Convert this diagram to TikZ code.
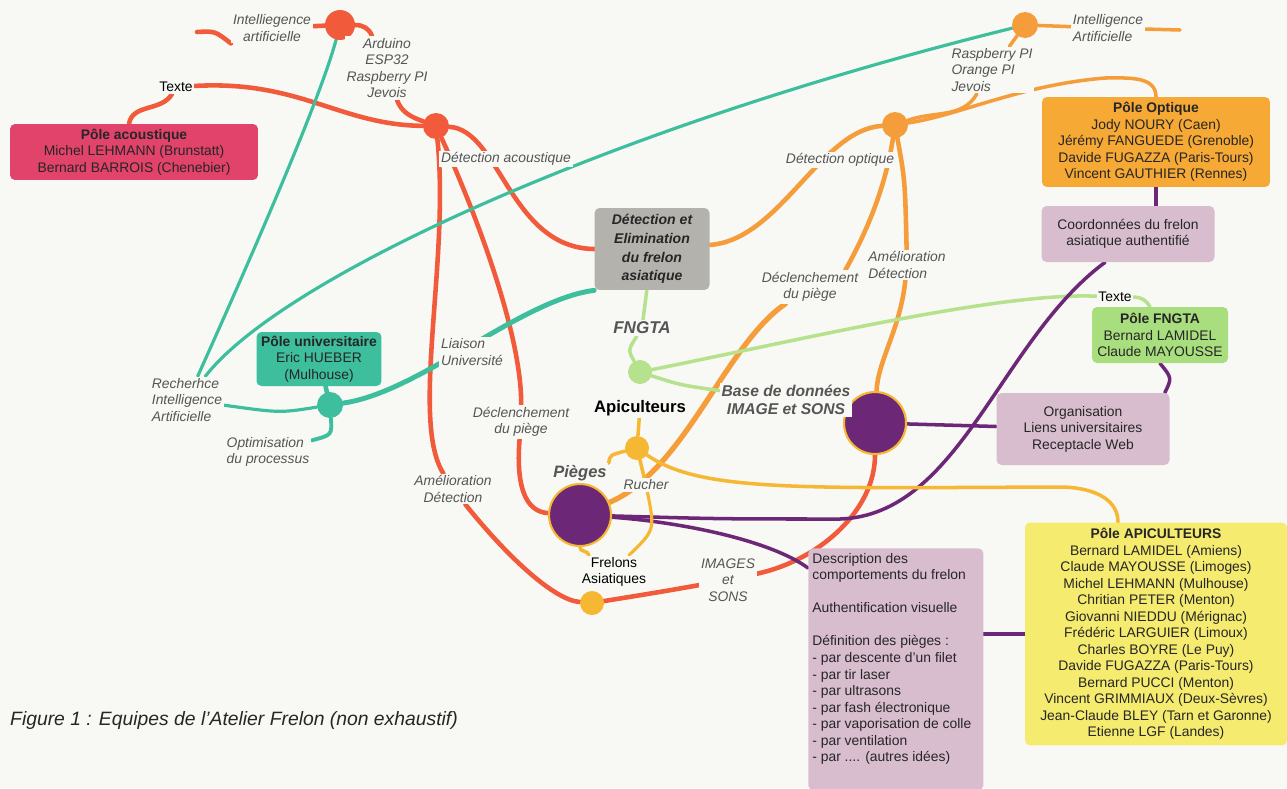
\documentclass[tikz,border=0pt]{standalone}
\usepackage{fontspec}
\setmainfont{Liberation Sans}
\usetikzlibrary{positioning}
\usetikzlibrary{backgrounds}

\definecolor{paper}{HTML}{F8F8F5}
\definecolor{acred}{HTML}{F15B3B}
\definecolor{acbox}{HTML}{E1436A}
\definecolor{tealc}{HTML}{3DBE9C}
\definecolor{optorange}{HTML}{F59D3A}
\definecolor{optbox}{HTML}{F6A935}
\definecolor{fnggreen}{HTML}{B7E28D}
\definecolor{fngbox}{HTML}{A9DE7E}
\definecolor{purplec}{HTML}{6C2777}
\definecolor{mauve}{HTML}{D8BDCF}
\definecolor{mainbox}{HTML}{B4B2AC}
\definecolor{yel}{HTML}{F6B733}
\definecolor{apibox}{HTML}{F5EB6F}
\definecolor{tagtext}{HTML}{555555}

\newcommand{\mmfont}{\fontsize{7.9}{9.4}\selectfont}

\begin{document}
\begin{tikzpicture}
[
x=0.02cm, y=-0.02cm,
hub/.style={circle, minimum size=#1, inner sep=0pt},
bighub/.style={hub=12.4mm, fill=purplec, draw=yel, line width=1.2pt},
pole/.style={rounded corners=1mm, align=center, inner sep=1pt, font=\mmfont, text=black!85},
tag/.style={align=center, font=\mmfont\itshape, text=tagtext, fill=paper, inner sep=1pt},
plain/.style={align=center, font=\mmfont, text=black, fill=paper, inner sep=1pt},
link/.style={line width=#1, line cap=round},
link/.default=2.6pt,
]
\useasboundingbox (0,0) rectangle (1287,788);

% poles
\node (pac) [pole, fill=acbox, minimum width=49.6mm, minimum height=11.2mm] at (134,152) {\textbf{Pôle acoustique}\\Michel LEHMANN (Brunstatt)\\Bernard BARROIS (Chenebier)};
\node (puniv) [pole, fill=tealc, minimum width=25mm, minimum height=10.8mm] at (319,359) {\textbf{Pôle universitaire}\\Eric HUEBER\\(Mulhouse)};
\node (main) [pole, fill=mainbox, minimum width=23mm, minimum height=16.4mm, font=\fontsize{8}{10.6}\selectfont\bfseries\itshape] at (652,249) {Détection et\\Elimination\\du frelon\\asiatique};
\node (popt) [pole, fill=optbox, minimum width=45.6mm, minimum height=18mm] at (1156,142) {\textbf{Pôle Optique}\\Jody NOURY (Caen)\\Jérémy FANGUEDE (Grenoble)\\Davide FUGAZZA (Paris-Tours)\\Vincent GAUTHIER (Rennes)};
\node (coord) [pole, fill=mauve, minimum width=34.6mm, minimum height=11.2mm] at (1128,234) {Coordonnées du frelon\\asiatique authentifié};
\node (pfng) [pole, fill=fngbox, minimum width=27.2mm, minimum height=11.2mm] at (1160,335) {\textbf{Pôle FNGTA}\\Bernard LAMIDEL\\Claude MAYOUSSE};
\node (orga) [pole, fill=mauve, minimum width=34.6mm, minimum height=14.4mm] at (1083,429) {Organisation\\Liens universitaires\\Receptacle Web};
\node (papi) [pole, fill=apibox, minimum width=52.4mm, minimum height=44.6mm] at (1156,634) {\textbf{Pôle APICULTEURS}\\Bernard LAMIDEL (Amiens)\\Claude MAYOUSSE (Limoges)\\Michel LEHMANN (Mulhouse)\\Chritian PETER (Menton)\\Giovanni NIEDDU (Mérignac)\\Frédéric LARGUIER (Limoux)\\Charles BOYRE (Le Puy)\\Davide FUGAZZA (Paris-Tours)\\Bernard PUCCI (Menton)\\Vincent GRIMMIAUX (Deux-Sèvres)\\Jean-Claude BLEY (Tarn et Garonne)\\Etienne LGF (Landes)};
\node (desc) [pole, fill=mauve, anchor=north west, align=left, inner xsep=0.8mm, inner ysep=1mm] at (808,548) {\parbox[t][46.4mm][t]{33.4mm}{\raggedright Description des\\comportements du frelon\\[9.4pt]Authentification visuelle\\[9.4pt]Définition des pièges :\\- par descente d'un filet\\- par tir laser\\- par ultrasons\\- par fash électronique\\- par vaporisation de colle\\- par ventilation\\- par .... (autres idées)}};

% hubs
\node (ai1) [hub=6mm, fill=acred] at (340,25) {};
\node (hac) [hub=5.2mm, fill=acred] at (436,126) {};
\node (huniv) [hub=5.2mm, fill=tealc] at (330,405) {};
\node (hopt) [hub=5.2mm, fill=optorange] at (895,125) {};
\node (ai2) [hub=5.2mm, fill=optorange] at (1025,25) {};
\node (hfng) [hub=4.8mm, fill=fnggreen] at (640,372) {};
\node (hapi) [hub=4.8mm, fill=yel] at (637,448) {};
\node (hfrel) [hub=4.8mm, fill=yel] at (592,603) {};
\node (hpieg) [bighub] at (580,515) {};
\node (hbase) [bighub] at (875,423) {};

% labels
\node (lai1) [tag] at (272,28) {Intelliegence\\artificielle};
\node (lard) [tag] at (387,68) {Arduino\\ESP32\\Raspberry PI\\Jevois};
\node (ltxt1) [plain] at (176,87) {Texte};
\node (ldac) [tag] at (506,159) {Détection acoustique};
\node (lliai) [tag, align=left] at (472,352) {Liaison\\Université};
\node (ldec1) [tag] at (521,422) {Déclenchement\\du piège};
\node (lame1) [tag] at (453,489) {Amélioration\\Détection};
\node (lrech) [tag, align=left] at (187,400) {Recherhce\\Intelligence\\Artificielle};
\node (lopti) [tag, align=left] at (268,452) {Optimisation\\du processus};
\node (ldop) [tag] at (840,160) {Détection optique};
\node (lras) [tag, align=left] at (992,70) {Raspberry PI\\Orange PI\\Jevois};
\node (lai2) [tag, align=left] at (1108,28) {Intelligence\\Artificielle};
\node (ldec2) [tag] at (810,287) {Déclenchement\\du piège};
\node (lame2) [tag, align=left] at (907,265) {Amélioration\\Détection};
\node (lfngta) [tag, font=\fontsize{9.7}{11}\selectfont\bfseries\itshape] at (642,328) {FNGTA};
\node (lapi) [plain, font=\fontsize{9.5}{11}\selectfont\bfseries] at (640,408) {Apiculteurs};
\node (lbase) [tag, font=\fontsize{8.9}{10.4}\selectfont\bfseries\itshape] at (786,400) {Base de données\\IMAGE et SONS};
\node (lpieg) [tag, font=\fontsize{9.4}{11}\selectfont\bfseries\itshape] at (580,473) {Pièges};
\node (lruch) [tag] at (646,485) {Rucher};
\node (lfrel) [plain] at (614,572) {Frelons\\Asiatiques};
\node (limg) [tag] at (728,580) {IMAGES\\et\\SONS};
\node (ltxt2) [plain] at (1115,297) {Texte};
\node (caption) [font=\fontsize{11}{13}\selectfont\itshape, text=black!85, anchor=west] at (4,720) {Figure 1 : Equipes de l'Atelier Frelon (non exhaustif)};

\coordinate (aistub) at (197,32);
\coordinate (aiend) at (1180,30);
\coordinate (optbend) at (1105,78);
\coordinate (purbend) at (840,519);
\coordinate (apibend) at (1060,487);

\begin{pgfonlayer}{background}
\fill [paper] (0,0) rectangle (1287,788);
% acoustique
\draw [link, acred] (aistub) .. controls (215,31) .. (lai1.south west);
\draw [link, acred] (ai1) -- (lai1);
\draw [link, acred] (ai1) to[out=0,in=110] ([xshift=-3mm]lard.north);
\draw [link, acred] ([xshift=2mm]lard.south) to[out=-70,in=160] (hac);
\draw [link, acred] (ltxt1) .. controls (300,80) and (340,125) .. (hac);
\draw [link, acred] (ltxt1) to[out=-120,in=80] ([xshift=-1mm]pac.north);
\draw [link, acred] (hac) .. controls (500,130) and (510,248) .. (main.west);
\draw [link, acred] (hac) .. controls (470,200) and (522,330) .. (ldec1);
\draw [link, acred] (ldec1) .. controls (515,495) and (530,512) .. (hpieg);
\draw [link, acred] (hac) .. controls (450,260) and (410,420) .. (lame1);
\draw [link, acred] (lame1) .. controls (510,560) and (555,600) .. (hfrel);
\draw [link, acred] (hbase) .. controls (875,510) and (820,560) .. (limg);
\draw [link, acred] (limg) .. controls (660,592) .. (hfrel);
% universite
\draw [link=1.8pt, tealc] (huniv) .. controls (280,413) .. (lrech);
\draw [link=1.8pt, tealc] (lrech) .. controls (250,260) and (320,100) .. (ai1);
\draw [link=1.8pt, tealc] (lrech) .. controls (280,280) and (600,130) .. (ai2);
\draw [link=2.8pt, tealc] (huniv) .. controls (420,392) and (520,300) .. (main.south west);
\draw [link=2.2pt, tealc] (huniv) .. controls (332,435) .. (lopti);
\draw [link, tealc] (puniv) -- (huniv);
% optique
\draw [link, optorange] (main) .. controls (780,240) and (820,130) .. (hopt);
\draw [link=2pt, optorange] (hopt) to[out=20,in=-120] ([xshift=-3mm]lras.south);
\draw [link=2pt, optorange] (hopt) .. controls (960,115) and (1020,85) .. (optbend) to[out=0,in=90] (popt.north);
\draw [link=2pt, optorange] (ai2) -- (lras);
\draw [link=2pt, optorange] (ai2) -- (lai2);
\draw [link=2pt, optorange] (lai2) -- (aiend);
\draw [link, optorange] (hopt) .. controls (885,190) and (865,235) .. ([xshift=-3mm]ldec2.north east);
\draw [link=3pt, optorange] (ldec2) .. controls (725,345) and (685,470) .. (hpieg);
\draw [link, optorange] (hopt) .. controls (905,180) .. (lame2);
\draw [link, optorange] (lame2) .. controls (900,330) and (878,360) .. (hbase);
% fngta
\draw [link=2pt, fnggreen] (main) -- (lfngta);
\draw [link=2pt, fnggreen] (lfngta) .. controls (628,350) .. (hfng);
\draw [link=2pt, fnggreen] (hfng) .. controls (800,340) and (1000,292) .. (ltxt2);
\draw [link=2pt, fnggreen] (ltxt2) to[out=0,in=120] ([xshift=-2mm]pfng.north);
\draw [link=2pt, fnggreen] (hfng) .. controls (680,385) .. (lbase);
% liens violets
\draw [link=2pt, purplec] (popt.south) -- (popt.south |- coord.north);
\draw [link=2pt, purplec] ([xshift=-4.6mm]coord.south) .. controls (1000,340) and (960,515) .. (purbend) .. controls (720,519) .. (hpieg);
\draw [link=2pt, purplec] (hpieg) .. controls (680,522) and (770,540) .. ([yshift=-4mm]desc.north west);
\draw [link=2pt, purplec] (desc.east |- papi.west) -- (papi.west);
\draw [link=2pt, purplec] (hbase) -- (orga);
\draw [link=2pt, purplec] (pfng.south) .. controls (1172,378) .. ([xshift=-1mm]orga.north east);
% apiculteurs
\draw [link=2pt, yel] (hapi) -- (lapi);
\draw [link=2pt, yel] (hapi) .. controls (610,455) .. (lpieg.north east);
\draw [link=2pt, yel] (hapi) -- (lruch);
\draw [link=2pt, yel] (hapi) .. controls (700,492) and (800,488) .. (apibend) to[out=0,in=90] ([xshift=-7.6mm]papi.north);
\draw [link=1.8pt, yel] (lruch) .. controls (655,530) .. ([xshift=3mm]lfrel.north);
\draw [link=2pt, yel] (hpieg.south) to[out=-100,in=100] ([xshift=-5mm]lfrel.north);
\end{pgfonlayer}
\end{tikzpicture}
\end{document}
